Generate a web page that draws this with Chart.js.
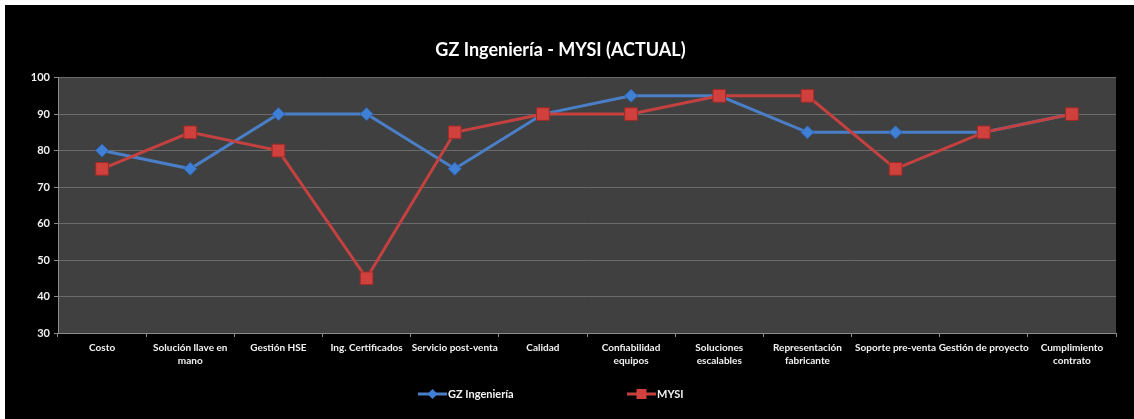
<!DOCTYPE html>
<html>
<head>
<meta charset="utf-8">
<script src="https://cdn.jsdelivr.net/npm/chart.js@4.4.1/dist/chart.umd.min.js"></script>
<style>
  body { margin: 0; background: #fff; }
  #wrap { position: absolute; left: 5px; top: 5px; width: 1129px; height: 414px; background: #000; }
</style>
</head>
<body>
<div id="wrap"><canvas id="chart" width="1129" height="414"></canvas></div>
<script>
// chart values
const categories = [
    'Costo', ['Solución llave en', 'mano'], 'Gestión HSE', 'Ing. Certificados',
    'Servicio post-venta', 'Calidad', ['Confiabilidad', 'equipos'], ['Soluciones', 'escalables'],
    ['Representación', 'fabricante'], 'Soporte pre-venta', 'Gestión de proyecto', ['Cumplimiento', 'contrato']
];
const gzValues = [80, 75, 90, 90, 75, 90, 95, 95, 85, 85, 85, 90];
const mysiValues = [75, 85, 80, 45, 85, 90, 90, 95, 95, 75, 85, 90];
const yTicks = [30, 40, 50, 60, 70, 80, 90, 100];

const FONT = 'Lato, "Open Sans", sans-serif';
const BLUE = '#4a7fc8';
const RED = '#c4413f';

// dark plot area background
const plotBg = {
    id: 'plotBg',
    beforeDraw(chart) {
        const a = chart.chartArea;
        const ctx = chart.ctx;
        ctx.save();
        ctx.fillStyle = '#404040';
        ctx.fillRect(a.left, a.top, a.right - a.left, a.bottom - a.top);
        ctx.restore();
    }
};

// Excel-style legend: line with marker, then text
const lineLegend = {
    id: 'lineLegend',
    afterDraw(chart) {
        const ctx = chart.ctx;
        const y = 389;
        const items = [
            { x: 413, ds: chart.data.datasets[0], shape: 'diamond' },
            { x: 622, ds: chart.data.datasets[1], shape: 'square' }
        ];
        ctx.save();
        items.forEach(it => {
            ctx.strokeStyle = it.ds.borderColor;
            ctx.lineWidth = 3;
            ctx.beginPath();
            ctx.moveTo(it.x, y);
            ctx.lineTo(it.x + 29, y);
            ctx.stroke();
            const cx = it.x + 14.5;
            ctx.fillStyle = it.ds.pointBackgroundColor;
            ctx.beginPath();
            if (it.shape === 'diamond') {
                ctx.moveTo(cx, y - 5);
                ctx.lineTo(cx + 5, y);
                ctx.lineTo(cx, y + 5);
                ctx.lineTo(cx - 5, y);
                ctx.closePath();
            } else {
                ctx.rect(cx - 5, y - 5, 10, 10);
            }
            ctx.fill();
            ctx.fillStyle = '#f2f2f2';
            ctx.font = 'bold 11px ' + FONT;
            ctx.textAlign = 'left';
            ctx.textBaseline = 'middle';
            ctx.fillText(it.ds.label, it.x + 30, y);
        });
        ctx.restore();
    }
};

new Chart(document.getElementById('chart'), {
    type: 'line',
    data: {
        labels: categories,
        datasets: [{
            label: 'GZ Ingeniería',
            data: gzValues,
            borderColor: BLUE,
            borderWidth: 3,
            pointStyle: 'rectRot',
            pointRadius: 6.5,
            pointHoverRadius: 6.5,
            pointBackgroundColor: '#3f7fd6',
            pointBorderColor: '#2f63a8',
            pointBorderWidth: 1,
            tension: 0,
            order: 1
        }, {
            label: 'MYSI',
            data: mysiValues,
            borderColor: RED,
            borderWidth: 3,
            pointStyle: 'rect',
            pointRadius: 9,
            pointHoverRadius: 9,
            pointBackgroundColor: '#d0403c',
            pointBorderColor: '#9c2b28',
            pointBorderWidth: 1,
            tension: 0,
            order: 0
        }]
    },
    options: {
        responsive: false,
        animation: false,
        layout: { padding: { left: 0, right: 18, top: 0, bottom: 41 } },
        plugins: {
            legend: { display: false },
            tooltip: { enabled: false },
            title: {
                display: true,
                text: 'GZ Ingeniería - MYSI (ACTUAL)',
                color: '#ffffff',
                font: { family: FONT, size: 18, weight: 'bold', lineHeight: 1.2 },
                padding: { top: 34, bottom: 17 }
            }
        },
        scales: {
            x: {
                offset: true,
                afterFit(scale) { scale.height = 45; },
                grid: {
                    offset: true,
                    drawOnChartArea: false,
                    drawTicks: true,
                    tickLength: 4,
                    color: '#8c8c8c'
                },
                border: { color: '#8c8c8c', width: 1 },
                ticks: {
                    color: '#f2f2f2',
                    padding: 4,
                    maxRotation: 0,
                    autoSkip: false,
                    font: { family: FONT, size: 10, weight: 'bold', lineHeight: 1.3 }
                }
            },
            y: {
                min: yTicks[0],
                max: yTicks[yTicks.length - 1],
                afterFit(scale) { scale.width = 53; },
                afterBuildTicks(scale) { scale.ticks = yTicks.map(v => ({ value: v })); },
                grid: { color: '#6b6b6b', tickLength: 4, tickColor: '#8c8c8c' },
                border: { color: '#8c8c8c', width: 1 },
                ticks: {
                    color: '#f2f2f2',
                    padding: 4,
                    font: { family: FONT, size: 11, weight: 'bold' }
                }
            }
        }
    },
    plugins: [plotBg, lineLegend]
});
</script>
</body>
</html>
